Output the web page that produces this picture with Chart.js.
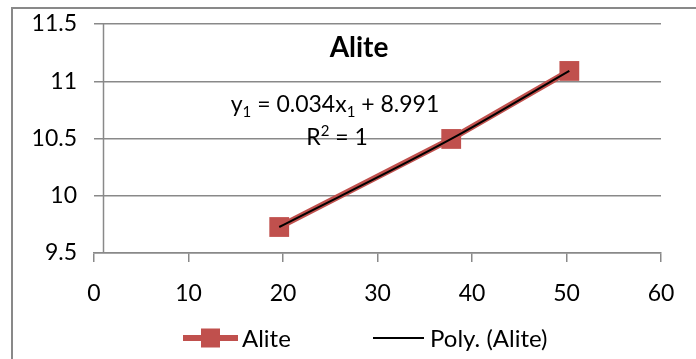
<!DOCTYPE html>
<html>
<head>
<meta charset="utf-8">
<title>Alite</title>
<script src="https://cdn.jsdelivr.net/npm/chart.js@4.4.1/dist/chart.umd.min.js"></script>
<style>
  html, body { margin: 0; padding: 0; background: #fff; }
  #wrap { width: 696px; height: 359px; }
</style>
</head>
<body>
<div id="wrap"><canvas id="aliteCanvas" width="696" height="359"></canvas></div>
<script>
// data
const xValues = [19.6, 37.8, 50.3];
const aliteValues = [9.727, 10.496, 11.09];
const xTicks = [0, 10, 20, 30, 40, 50, 60];
const yTicks = [9.5, 10, 10.5, 11, 11.5];
const seriesNames = ["Alite", "Poly. (Alite)"];

const RED = "#C0504D";
const GRID = "#898989";
const FONT = "Lato, 'Open Sans', sans-serif";
const Y_AXIS_CROSS = 1; // vertical axis crosses the x axis at 1, not 0

const points = xValues.map((x, i) => ({ x, y: aliteValues[i] }));

// ── frame, axis line, title, equation and legend ──
const decorations = {
  id: "decorations",
  beforeDraw(chart) {
    const ctx = chart.ctx;
    ctx.save();
    ctx.strokeStyle = GRID; ctx.lineWidth = 2;
    ctx.beginPath();
    ctx.moveTo(12, 400); ctx.lineTo(12, 8); ctx.lineTo(700, 8);
    ctx.stroke();
    ctx.restore();
  },
  beforeDatasetsDraw(chart) {
    const { ctx, chartArea, scales } = chart;
    const xp = Math.round(scales.x.getPixelForValue(Y_AXIS_CROSS)) + 0.5;
    ctx.save();
    ctx.strokeStyle = GRID; ctx.lineWidth = 1.5;
    ctx.beginPath();
    ctx.moveTo(xp, chartArea.top); ctx.lineTo(xp, chartArea.bottom);
    ctx.stroke();
    ctx.restore();
  },
  afterDraw(chart) {
    const ctx = chart.ctx;
    ctx.save();
    ctx.fillStyle = "#000";
    ctx.textBaseline = "middle";

    // title
    ctx.font = `bold 28px ${FONT}`;
    ctx.textAlign = "center";
    ctx.fillText("Alite", 359, 48);

    // trendline label
    drawRich(ctx, [["y", 0], ["1", 1], [" = 0.034x", 0], ["1", 1], [" + 8.991", 0]], 335, 105);
    drawRich(ctx, [["R", 0], ["2", -1], [" = 1", 0]], 337, 138);

    // legend
    const ds = chart.data.datasets;
    const ly = 338;
    ctx.strokeStyle = ds[1].borderColor; ctx.lineWidth = 6;
    ctx.beginPath(); ctx.moveTo(183, ly); ctx.lineTo(238, ly); ctx.stroke();
    ctx.fillStyle = ds[1].backgroundColor;
    ctx.fillRect(201, ly - 9.5, 19, 19);
    ctx.strokeStyle = ds[0].borderColor; ctx.lineWidth = 2;
    ctx.beginPath(); ctx.moveTo(373, ly); ctx.lineTo(424, ly); ctx.stroke();
    ctx.fillStyle = "#000";
    ctx.font = `24px ${FONT}`;
    ctx.textAlign = "left";
    ctx.fillText(ds[1].label, 242, ly + 1);
    ctx.fillText(ds[0].label, 430, ly + 1);
    ctx.restore();
  },
};

// text with sub (1) / superscripts (-1), centred on cx
function drawRich(ctx, parts, cx, cy) {
  const big = `23px ${FONT}`, small = `15px ${FONT}`;
  let total = 0;
  parts.forEach(([t, s]) => { ctx.font = s ? small : big; total += ctx.measureText(t).width; });
  let x = cx - total / 2;
  ctx.textAlign = "left";
  parts.forEach(([t, s]) => {
    ctx.font = s ? small : big;
    ctx.fillText(t, x, cy + s * 7);
    x += ctx.measureText(t).width;
  });
}

new Chart(document.getElementById("aliteCanvas").getContext("2d"), {
  type: "scatter",
  data: {
    datasets: [
      {
        label: seriesNames[1],
        data: points, showLine: true,
        borderColor: "#000", borderWidth: 2, pointRadius: 0,
        tension: 0.4, cubicInterpolationMode: "monotone", order: 0,
      },
      {
        label: seriesNames[0],
        data: points, showLine: true,
        borderColor: RED, backgroundColor: RED, borderWidth: 6,
        pointStyle: "rect", pointRadius: 14, pointBorderWidth: 0,
        pointBackgroundColor: RED, order: 1,
      },
    ],
  },
  options: {
    responsive: false, animation: false,
    layout: { padding: { left: 0, top: 24, right: 35, bottom: 46 } },
    plugins: { legend: { display: false }, tooltip: { enabled: false } },
    scales: {
      x: {
        type: "linear", min: xTicks[0], max: xTicks[xTicks.length - 1],
        afterBuildTicks: s => { s.ticks = xTicks.map(v => ({ value: v })); },
        afterFit: s => { s.height = 60; s.paddingLeft = 0; s.paddingRight = 0; },
        ticks: { color: "#000", font: { family: FONT, size: 23 }, padding: 18 },
        grid: { drawOnChartArea: false, tickLength: 9, color: GRID, lineWidth: 1.5 },
        border: { color: GRID, width: 1.5 },
      },
      y: {
        min: yTicks[0], max: yTicks[yTicks.length - 1],
        afterBuildTicks: s => { s.ticks = yTicks.map(v => ({ value: v })); },
        afterFit: s => { s.width = 94; s.paddingTop = 0; s.paddingBottom = 0; },
        ticks: { color: "#000", font: { family: FONT, size: 23 }, padding: 17, callback: v => String(v) },
        grid: { drawTicks: false, color: GRID, lineWidth: 1.5 },
        border: { display: false },
      },
    },
  },
  plugins: [decorations],
});
</script>
</body>
</html>
